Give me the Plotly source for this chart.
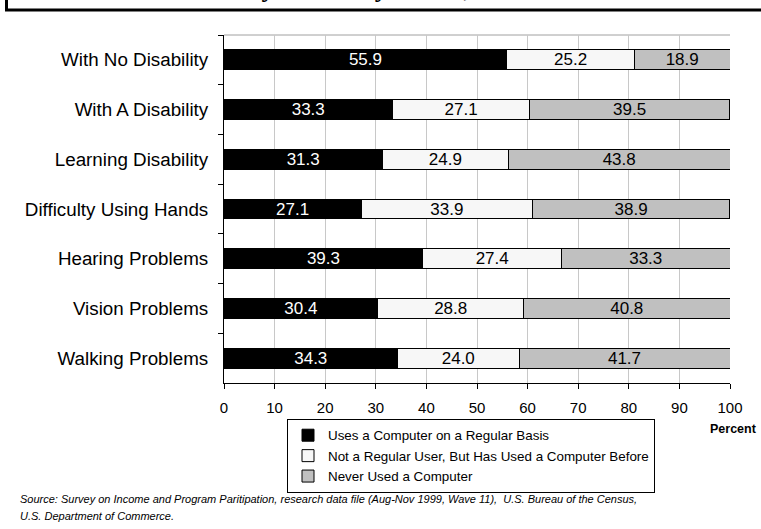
import plotly.graph_objects as go

categories = ["With No Disability", "With A Disability", "Learning Disability",
              "Difficulty Using Hands", "Hearing Problems", "Vision Problems",
              "Walking Problems"]
regular = [55.9, 33.3, 31.3, 27.1, 39.3, 30.4, 34.3]
used_before = [25.2, 27.1, 24.9, 33.9, 27.4, 28.8, 24.0]
never = [18.9, 39.5, 43.8, 38.9, 33.3, 40.8, 41.7]
series_names = ["Uses a Computer on a Regular Basis",
                "Not a Regular User, But Has Used a Computer Before",
                "Never Used a Computer"]
x_ticks = [0, 10, 20, 30, 40, 50, 60, 70, 80, 90, 100]

FONT = "Arial, Liberation Sans, sans-serif"
colors = ["#000000", "#f7f7f7", "#c0c0c0"]
text_colors = ["#ffffff", "#000000", "#000000"]

fig = go.Figure()
for name, vals, col, tcol in zip(series_names, [regular, used_before, never], colors, text_colors):
    fig.add_trace(go.Bar(
        y=categories, x=vals, name=name, orientation="h",
        marker=dict(color=col, line=dict(color="#000000", width=1)),
        width=0.4,
        text=vals, texttemplate="%{x:.1f}", textposition="inside",
        insidetextanchor="middle",
        textfont=dict(family=FONT, size=17, color=tcol),
        hoverinfo="skip",
    ))

W, H = 761, 529
L, R, T, B = 224, 31, 35, 146
pw, ph = W - L - R, H - T - B

def px_x(p):
    return (p - L) / pw

def px_y(p):
    return 1 - (p - T) / ph

fig.update_layout(
    width=W, height=H,
    margin=dict(l=L, r=R, t=T, b=B, pad=0),
    barmode="stack",
    bargap=0.6,
    plot_bgcolor="#ffffff", paper_bgcolor="#ffffff",
    font=dict(family=FONT, color="#000000"),
    uniformtext=dict(minsize=17, mode="show"),
    showlegend=True,
    legend=dict(
        x=px_x(287), y=px_y(419), xanchor="left", yanchor="top",
        traceorder="normal", orientation="v",
        bordercolor="#000000", borderwidth=1, bgcolor="#ffffff",
        font=dict(family=FONT, size=13.4, color="#000000"),
        itemclick=False, itemdoubleclick=False,
        tracegroupgap=0,
    ),
    xaxis=dict(
        range=[0, 100], tickmode="array", tickvals=x_ticks,
        ticks="outside", ticklen=5, tickcolor="#000000",
        ticklabelstandoff=6,
        showline=True, linecolor="#000000", linewidth=1,
        showgrid=True, gridcolor="#c8c8c8", gridwidth=1,
        zeroline=False,
        tickfont=dict(family=FONT, size=15, color="#000000"),
        fixedrange=True,
    ),
    yaxis=dict(
        type="category", categoryorder="array", categoryarray=categories,
        autorange="reversed",
        tickson="boundaries", ticks="outside", ticklen=5, tickcolor="#000000",
        ticklabelstandoff=11,
        showline=True, linecolor="#000000", linewidth=1,
        showgrid=False, zeroline=False,
        tickfont=dict(family=FONT, size=18.8, color="#000000"),
        fixedrange=True,
    ),
    shapes=[
        dict(type="line", xref="paper", yref="paper", x0=0, x1=1, y0=1, y1=1,
             line=dict(color="#a0a0a0", width=1), layer="below"),
        dict(type="path", xref="paper", yref="paper",
             path=f"M {px_x(6.5)},{px_y(-200)} L {px_x(6.5)},{px_y(10)} L {px_x(1000)},{px_y(10)}",
             line=dict(color="#000000", width=3)),
    ],
    annotations=[
        dict(text="<b>by Disability Status, 1999</b>", xref="paper", yref="paper",
             x=px_x(245), y=px_y(-12), xanchor="left", yanchor="middle", showarrow=False,
             font=dict(family="Liberation Serif, Times New Roman, serif", size=26, color="#000000")),
        dict(text="<b>Percent</b>", xref="paper", yref="paper",
             x=px_x(733), y=px_y(429), xanchor="center", yanchor="middle", showarrow=False,
             font=dict(family=FONT, size=12.5, color="#000000")),
        dict(text="<i>Source: Survey on Income and Program Paritipation, research data file (Aug-Nov 1999, Wave 11),  U.S. Bureau of the Census,</i>",
             xref="paper", yref="paper", x=px_x(18), y=px_y(499), xanchor="left", yanchor="middle",
             showarrow=False, font=dict(family=FONT, size=11, color="#000000")),
        dict(text="<i>U.S. Department of Commerce.</i>",
             xref="paper", yref="paper", x=px_x(18), y=px_y(516), xanchor="left", yanchor="middle",
             showarrow=False, font=dict(family=FONT, size=11, color="#000000")),
    ],
)

fig.write_html(
    "out.html",
    config={"displayModeBar": False},
    post_script="document.body.style.margin='0';document.body.style.padding='0';document.documentElement.style.overflow='hidden';",
)
